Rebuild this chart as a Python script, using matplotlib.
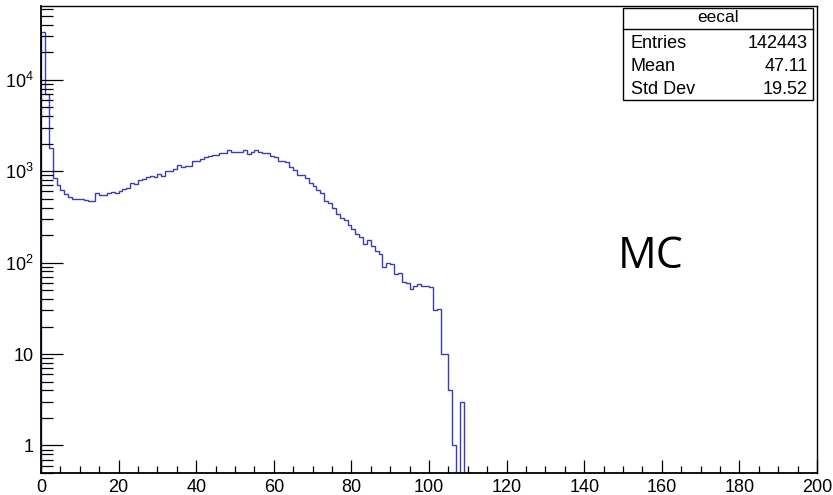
import matplotlib
matplotlib.use("Agg")
import matplotlib.pyplot as plt
import numpy as np
from matplotlib.ticker import FixedLocator, FuncFormatter, NullFormatter
from matplotlib.patches import Rectangle
from matplotlib.lines import Line2D

# ---------------- data ----------------
bin_edges_range = (0, 200)
n_bins = 200
# counts per 1-unit bin, starting at bin 0
counts_head = [
    33000, 7000, 1800, 850, 700, 620, 560, 517, 497, 497,      # 0-9
    495, 482, 470, 476, 570, 550, 550, 580, 585, 570,          # 10-19
    610, 640, 655, 740, 720, 800, 820, 860, 890, 870,          # 20-29
    930, 880, 1010, 1010, 1060, 1170, 1100, 1130, 1130, 1300,  # 30-39
    1300, 1370, 1420, 1470, 1500, 1500, 1560, 1560, 1690, 1620,  # 40-49
    1620, 1620, 1700, 1540, 1600, 1690, 1620, 1570, 1570, 1470,  # 50-59
    1420, 1300, 1300, 1250, 1120, 1030, 910, 910, 840, 740,    # 60-69
    690, 630, 575, 476, 450, 400, 340, 305, 290, 260,          # 70-79
    234, 204, 190, 160, 177, 150, 135, 124, 90, 100,           # 80-89
    97, 75, 76, 62, 60, 52, 56, 58, 55, 55,                    # 90-99
    54, 30, 31, 10, 10, 4, 1, 0, 3, 0,                         # 100-109
]
stat_title = "eecal"
stat_names = ["Entries", "Mean", "Std Dev"]
stat_values = ["142443", "47.11", "19.52"]
x_ticks_major = [0, 20, 40, 60, 80, 100, 120, 140, 160, 180, 200]
y_ticks_major = [1, 10, 100, 1000, 10000]
annotation = "MC"

counts = np.zeros(n_bins)
counts[:len(counts_head)] = counts_head
edges = np.linspace(bin_edges_range[0], bin_edges_range[1], n_bins + 1)

# ---------------- figure ----------------
plt.rcParams["mathtext.fontset"] = "custom"
plt.rcParams["mathtext.rm"] = "Liberation Sans"
W, H = 833, 495
fig = plt.figure(figsize=(W / 100, H / 100), dpi=100)
fig.patch.set_facecolor("white")
L, R, T, B = 41, 817, 6, 473
ax = fig.add_axes([L / W, 1 - B / H, (R - L) / W, (B - T) / H])

plot_counts = np.where(counts > 0, counts, 1e-3)
ax.stairs(plot_counts, edges, color="#3b3bb8", linewidth=1.0, baseline=1e-3)

ax.set_yscale("log")
ax.set_xlim(0, 200)
ax.set_ylim(0.5, 6.4e4)

ax.xaxis.set_major_locator(FixedLocator(x_ticks_major))
ax.xaxis.set_minor_locator(FixedLocator(np.arange(0, 201, 5)))
ax.yaxis.set_major_locator(FixedLocator(y_ticks_major))
minors = []
for d in [0.1, 1, 10, 100, 1000, 10000]:
    for m in range(2, 10):
        minors.append(d * m)
ax.yaxis.set_minor_locator(FixedLocator(minors))
ax.yaxis.set_minor_formatter(NullFormatter())


def yfmt(v, pos):
    if v == 1:
        return "1"
    if v == 10:
        return "10"
    e = int(round(np.log10(v)))
    return r"$\mathregular{10^{%d}}$" % e


ax.yaxis.set_major_formatter(FuncFormatter(yfmt))

ax.tick_params(axis="both", which="both", direction="in", top=False, right=False,
               width=0.9, color="black")
ax.tick_params(axis="y", which="major", length=16, pad=5)
ax.tick_params(axis="y", which="minor", length=8.5)
ax.tick_params(axis="x", which="major", length=9.5, pad=4)
ax.tick_params(axis="x", which="minor", length=5)
for lab in ax.get_xticklabels() + ax.get_yticklabels():
    lab.set_fontfamily(["Liberation Sans", "DejaVu Sans"])
    lab.set_fontsize(13)
for sp in ax.spines.values():
    sp.set_linewidth(1.0)
ax.spines["left"].set_linewidth(1.3)
ax.spines["bottom"].set_linewidth(1.3)

# ---------------- stats box ----------------
bx0, bx1, by0, by1, bysep = 623, 813, 7.5, 100, 28.5


def fx(px):
    return px / W


def fy(py):
    return 1 - py / H


box = Rectangle((fx(bx0), fy(by1)), fx(bx1) - fx(bx0), fy(by0) - fy(by1),
                transform=fig.transFigure, facecolor="white", edgecolor="black",
                linewidth=1.0, zorder=5)
fig.add_artist(box)
fig.add_artist(Line2D([fx(bx0), fx(bx1)], [fy(bysep), fy(bysep)],
                      transform=fig.transFigure, color="black", linewidth=1.0, zorder=6))
sfont = ["Liberation Sans", "DejaVu Sans"]
fig.text(fx((bx0 + bx1) / 2), fy(18), stat_title, ha="center", va="center",
         fontsize=12.5, family=sfont, zorder=7)
row_y = [44, 66.5, 89]
for name, val, yy in zip(stat_names, stat_values, row_y):
    fig.text(fx(631), fy(yy), name, ha="left", va="center", fontsize=13,
             family=sfont, zorder=7)
    fig.text(fx(808), fy(yy), val, ha="right", va="center", fontsize=13,
             family=sfont, zorder=7)

# ---------------- annotation ----------------
fig.text(fx(651), fy(257), annotation, ha="center", va="center", fontsize=31,
         family=["Open Sans", "DejaVu Sans"])

fig.savefig("out.png", dpi=100)
